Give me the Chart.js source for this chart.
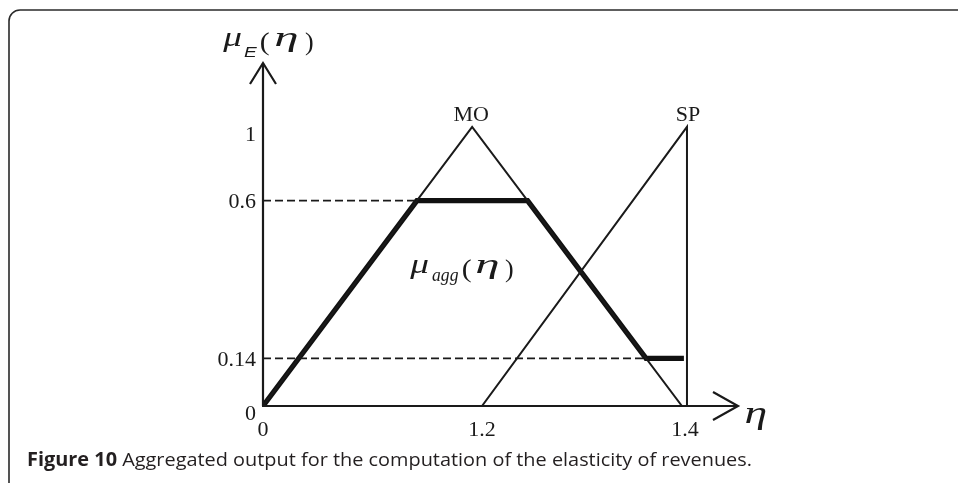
<!DOCTYPE html>
<html>
<head>
<meta charset="utf-8">
<script src="https://cdn.jsdelivr.net/npm/chart.js@4"></script>
<style>
html,body{margin:0;padding:0;background:#fff;}
#wrap{position:relative;width:958px;height:483px;}
canvas{display:block;}
</style>
</head>
<body>
<div id="wrap"><canvas id="c" width="958" height="483"></canvas></div>
<script>
// Schematic diagram units (the original figure is not drawn to scale)
const xTickValues = [0, 1, 1.927];
const xTickLabels = ['0', '1.2', '1.4'];
const yTickValues = [0, 0.171, 0.736, 1];
const yTickLabels = ['0', '0.14', '0.6', '1'];

const moX = [0, 0.955, 1.913];
const moY = [0, 1, 0];
const spX = [1.0, 1.936, 1.936];
const spY = [0, 1, 0];
const aggX = [0, 0.703, 1.208, 1.749, 1.922];
const aggY = [0, 0.736, 0.736, 0.171, 0.171];
const cutLevels = [0.736, 0.171];
const cutEnds = [0.703, 1.749];
const setNames = ['MO', 'SP'];

const pts = (xs, ys) => xs.map((x, i) => ({x: x, y: ys[i]}));
const ink = '#1a1a1a';

const datasets = [];
cutLevels.forEach((lv, i) => {
  datasets.push({data: pts([0, cutEnds[i]], [lv, lv]), borderColor: ink, borderWidth: 1.7, borderDash: [8, 4]});
});
datasets.push({data: pts(moX, moY), borderColor: ink, borderWidth: 2});
datasets.push({data: pts(spX, spY), borderColor: ink, borderWidth: 2});
datasets.push({data: pts(aggX, aggY), borderColor: '#111', borderWidth: 5.2, borderJoinStyle: 'miter'});
datasets.forEach(d => { d.showLine = true; d.pointRadius = 0; d.tension = 0; d.fill = false; });

// draw text so that it spans exactly the width w
function fit(ctx, s, x, y, font, w) {
  ctx.save();
  ctx.font = font;
  ctx.textAlign = 'left';
  const m = ctx.measureText(s);
  const real = m.actualBoundingBoxRight + m.actualBoundingBoxLeft;
  const sx = w / real;
  ctx.translate(x, y);
  ctx.scale(sx, 1);
  ctx.fillText(s, m.actualBoundingBoxLeft, 0);
  ctx.restore();
}

const decor = {
  id: 'decor',
  afterDatasetsDraw(chart) {
    const ctx = chart.ctx, xs = chart.scales.x, ys = chart.scales.y;
    const X = v => xs.getPixelForValue(v), Y = v => ys.getPixelForValue(v);
    const ox = X(0), oy = Y(0), right = chart.chartArea.right, top = chart.chartArea.top;
    ctx.save();
    ctx.strokeStyle = ink; ctx.fillStyle = ink; ctx.lineWidth = 2.2; ctx.lineCap = 'butt';
    // axes
    ctx.beginPath();
    ctx.moveTo(ox, oy); ctx.lineTo(ox, top);
    ctx.moveTo(ox - 1, oy); ctx.lineTo(right, oy);
    ctx.stroke();
    // arrow heads
    ctx.beginPath();
    ctx.moveTo(ox - 13, top + 21); ctx.lineTo(ox, top); ctx.lineTo(ox + 13, top + 21);
    ctx.moveTo(right - 25, oy - 14); ctx.lineTo(right, oy); ctx.lineTo(right - 25, oy + 14);
    ctx.stroke();
    // tick labels
    ctx.font = '22px "Liberation Serif"';
    ctx.textAlign = 'center'; ctx.textBaseline = 'alphabetic';
    xTickValues.forEach((v, i) => ctx.fillText(xTickLabels[i], X(v), oy + 30));
    ctx.textAlign = 'right';
    yTickValues.forEach((v, i) => {
      let dy = 7.5;
      if (v === 0) dy = 13.5; else if (v === 1) dy = 14.5;
      ctx.fillText(yTickLabels[i], ox - 7, Y(v) + dy);
    });
    // set names at peaks
    ctx.textAlign = 'center';
    ctx.fillText(setNames[0], X(moX[1]) - 1, Y(moY[1]) - 6);
    ctx.fillText(setNames[1], X(spX[1]) + 1, Y(spY[1]) - 6);
    // y-axis title  mu_E(eta)
    const gk = 'italic 28px "Liberation Serif"';
    fit(ctx, '\u03bc', 222, 46, gk, 20);
    fit(ctx, 'E', 244, 57, 'italic 15px "Liberation Sans"', 14);
    fit(ctx, '(', 261, 50, '26px "Liberation Serif"', 8);
    fit(ctx, '\u03b7', 276, 46, gk, 21);
    fit(ctx, ')', 305, 50, '26px "Liberation Serif"', 8);
    // eta on x axis
    fit(ctx, '\u03b7', 746, oy + 17, 'italic 32px "Liberation Serif"', 20);
    // mu_agg(eta) label
    fit(ctx, '\u03bc', 409, 273, gk, 20);
    fit(ctx, 'agg', 432, 281, 'italic 19px "Liberation Serif"', 26);
    fit(ctx, '(', 463, 277, '26px "Liberation Serif"', 8);
    fit(ctx, '\u03b7', 477, 273, gk, 21);
    fit(ctx, ')', 505, 277, '26px "Liberation Serif"', 8);
    // frame
    ctx.strokeStyle = '#2a2a2a'; ctx.lineWidth = 1.6;
    ctx.beginPath();
    ctx.moveTo(9, 483); ctx.lineTo(9, 21);
    ctx.arcTo(9, 10, 20, 10, 11);
    ctx.lineTo(958, 10);
    ctx.stroke();
    // caption
    const capY = 466, capX = 27, capW = 725;
    const bold = 'Figure 10', rest = ' Aggregated output for the computation of the elasticity of revenues.';
    ctx.textAlign = 'left';
    ctx.font = 'bold 19px "Open Sans"';
    const wb = ctx.measureText(bold).width;
    ctx.font = '19px "Open Sans"';
    const wr = ctx.measureText(rest).width;
    const s = capW / (wb + wr);
    ctx.translate(capX, capY); ctx.scale(s, 1);
    ctx.fillStyle = '#231f20';
    ctx.font = 'bold 19px "Open Sans"';
    ctx.fillText(bold, 0, 0);
    ctx.font = '19px "Open Sans"';
    ctx.fillText(rest, wb, 0);
    ctx.restore();
  }
};

new Chart(document.getElementById('c'), {
  type: 'scatter',
  data: {datasets: datasets},
  options: {
    responsive: false,
    animation: false,
    events: [],
    layout: {padding: {left: 263, right: 220, top: 63, bottom: 77}},
    plugins: {legend: {display: false}, tooltip: {enabled: false}},
    scales: {
      x: {type: 'linear', min: 0, max: 2.169, display: false},
      y: {type: 'linear', min: 0, max: 1.229, display: false}
    }
  },
  plugins: [decor]
});
</script>
</body>
</html>
